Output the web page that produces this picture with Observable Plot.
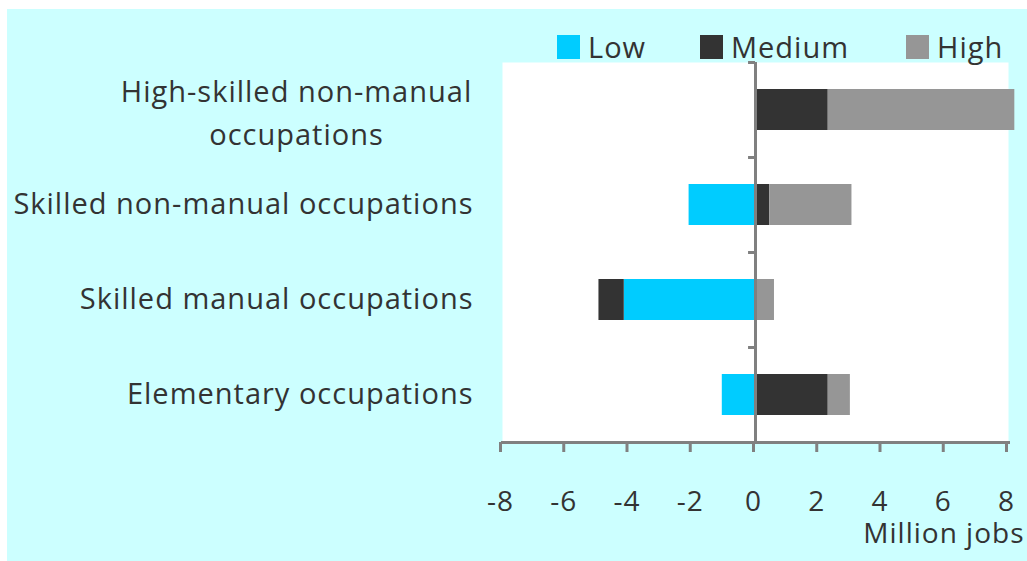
<!DOCTYPE html>
<html>
<head>
<meta charset="utf-8">
<script src="https://cdn.jsdelivr.net/npm/d3@7"></script>
<script src="https://cdn.jsdelivr.net/npm/@observablehq/plot@0.6"></script>
<style>
  html, body { margin: 0; padding: 0; background: #ffffff; }
  #wrap { position: absolute; left: 7px; top: 9px; width: 1020px; height: 552px; background: #ccffff; overflow: hidden; font-family: "Open Sans", sans-serif; }
  #legend { position: absolute; left: 0; top: 23px; width: 1020px; height: 30px; font-size: 29px; letter-spacing: 1px; color: #333; line-height: 1; }
  .item { position: absolute; top: 0; display: flex; align-items: center; gap: 8px; }
  .sw { width: 23px; height: 24px; display: inline-block; }
  #chart { position: absolute; left: 0; top: 0; }
  #chart svg text { letter-spacing: 1px; }
</style>
</head>
<body>
<div id="wrap">
  <div id="chart"></div>
  <div id="legend"></div>
</div>
<script>
const categories = [
  "High-skilled non-manual\noccupations",
  "Skilled non-manual occupations",
  "Skilled manual occupations",
  "Elementary occupations"
];
const levels = ["Low", "Medium", "High"];
const colors = ["#00ccff", "#333333", "#969696"];
const lowValues = [0, -2.1, -4.15, -1.05];
const mediumValues = [2.3, 0.45, -0.8, 2.3];
const highValues = [5.9, 2.6, 0.6, 0.7];
const xTicks = [-8, -6, -4, -2, 0, 2, 4, 6, 8];

const series = {Low: lowValues, Medium: mediumValues, High: highValues};
const rows = [];
categories.forEach((c, i) => {
  levels.forEach(l => rows.push({category: c, level: l, value: series[l][i]}));
});

const W = 1020, H = 552, mt = 53, mb = 119, ml = 495, mr = 19;
const bandH = (H - mt - mb) / categories.length;

const chart = Plot.plot({
  width: W,
  height: H,
  marginTop: mt,
  marginBottom: mb,
  marginLeft: ml,
  marginRight: mr,
  style: {fontFamily: "Open Sans, sans-serif", fontSize: "29px", color: "#333", background: "transparent", overflow: "visible"},
  x: {domain: [-8, 8]},
  y: {domain: categories, padding: 0, axis: null},
  color: {domain: levels, range: colors},
  marks: [
    Plot.frame({fill: "white", stroke: null}),
    Plot.barX(rows, Plot.stackX({
      x: "value", y: "category", fill: "level", order: levels,
      insetTop: 27, insetBottom: 27
    })),
    Plot.ruleX([0], {stroke: "#808080", strokeWidth: 3}),
    Plot.ruleY(categories, {y: d => d, x1: -0.22, x2: 0, stroke: "#808080", strokeWidth: 3, dy: -bandH / 2}),
    Plot.frame({anchor: "bottom", stroke: "#808080", strokeWidth: 3}),
    Plot.axisX({
      ticks: xTicks, tickSize: 10, tickPadding: 39, stroke: "#808080", strokeWidth: 3,
      fill: "#333", fontSize: 28, tickFormat: d => String(d),
      label: "Million jobs", labelAnchor: "right", labelArrow: "none", labelOffset: 100, dx: -2
    }),
    Plot.text(categories.filter(c => !c.includes("\n")), {
      y: d => d, frameAnchor: "left", textAnchor: "end", dx: -29, fill: "#333", fontSize: 29
    }),
    Plot.text(categories.filter(c => c.includes("\n")), {
      y: d => d, frameAnchor: "left", textAnchor: "middle", dx: -206, dy: 0, lineHeight: 1.47, fill: "#333", fontSize: 29
    })
  ]
});
document.getElementById("chart").appendChild(chart);

const legendLefts = [550, 693, 899];
const legend = document.getElementById("legend");
levels.forEach((l, i) => {
  const item = document.createElement("div");
  item.className = "item";
  item.style.left = legendLefts[i] + "px";
  const sw = document.createElement("span");
  sw.className = "sw";
  sw.style.background = colors[i];
  const t = document.createElement("span");
  t.textContent = l;
  item.appendChild(sw);
  item.appendChild(t);
  legend.appendChild(item);
});
</script>
</body>
</html>
